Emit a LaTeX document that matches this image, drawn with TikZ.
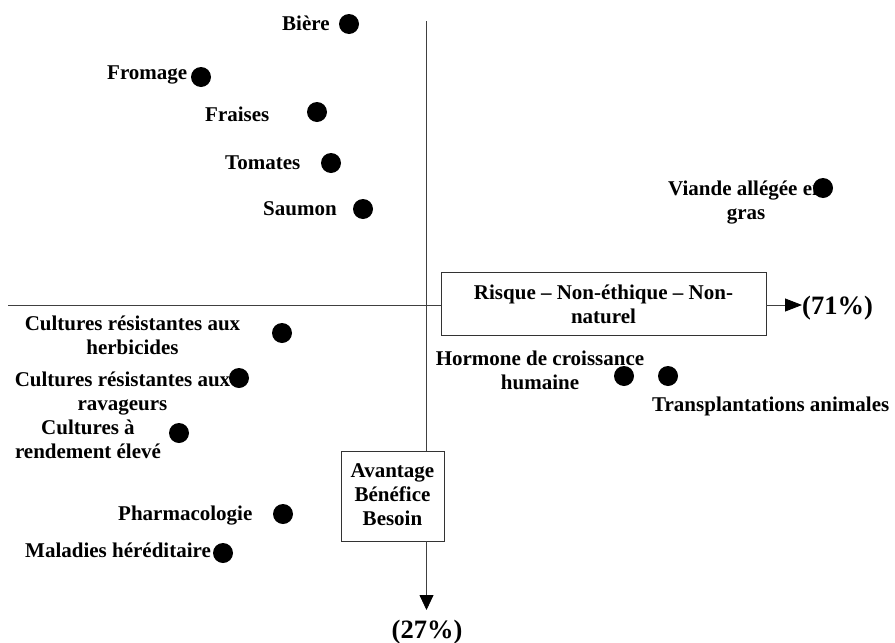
\documentclass[tikz,border=0pt]{standalone}
\usepackage{fontspec}
\setmainfont{Liberation Serif}
\usetikzlibrary{arrows.meta}
\begin{document}
\begin{tikzpicture}[x=1pt,y=-1pt,
  lbl/.style={font=\fontsize{21}{24}\selectfont\bfseries, inner sep=0pt, align=center, anchor=base},
  lblw/.style={font=\fontsize{21}{24}\selectfont\bfseries, inner sep=0pt, anchor=base west},
  pct/.style={font=\fontsize{26.5}{30}\selectfont\bfseries, inner sep=0pt},
  dot/.style={circle, fill=black, minimum size=20pt, inner sep=0pt},
  axis/.style={draw=black!75, line width=0.8pt},
  boxx/.style={draw=black!80, line width=0.9pt, inner sep=0pt}]
\useasboundingbox (0,0) rectangle (895,643);
% boxes
\node[boxx, minimum width=325pt, minimum height=63pt] (rb) at (603.5,303.5) {};
\node[lbl] (rbt) at (603.5,323) {Risque -- Non-éthique -- Non-\\naturel};
\node[boxx, minimum width=103pt, minimum height=90pt] (ab) at (392.5,496) {};
\node[lbl] (abt) at (392.5,525) {Avantage\\Bénéfice\\Besoin};
% axes
\coordinate (vtop) at (426.5,21);
\coordinate (htop) at (8,305);
\coordinate (vb1) at (426.5,451);
\coordinate (vb2) at (426.5,541);
\coordinate (vtip) at (426.5,610);
\coordinate (htip) at (802,305);
\draw[axis] (vtop) -- (vb1);
\draw[axis] (htop) -- (rb.west |- htop);
\draw[axis, -{Triangle[length=15pt,width=14pt,color=black]}] (vb2) -- (vtip);
\draw[axis, -{Triangle[length=17pt,width=13pt,color=black]}] (rb.east |- htip) -- (htip);
\node[pct, anchor=base west] (p71) at (802,314) {(71\%)};
\node[pct, anchor=base] (p27) at (427,638) {(27\%)};
% labels
\node[lblw] (lbiere) at (282,30) {Bière};
\node[lblw] (lfrom) at (107,79) {Fromage};
\node[lblw] (lfrai) at (205,121) {Fraises};
\node[lblw] (ltom) at (225,169) {Tomates};
\node[lblw] (lsaum) at (263,215) {Saumon};
\node[lbl] (lvia) at (746,219) {Viande allégée en\\gras};
\node[lbl] (lhor) at (540,389) {Hormone de croissance\\humaine};
\node[lblw] (ltra) at (652,411) {Transplantations animales};
\node[lbl] (lc1) at (132.5,354) {Cultures résistantes aux\\herbicides};
\node[lbl] (lc2) at (122.5,410) {Cultures résistantes aux\\ravageurs};
\node[lbl] (lc3) at (88,458) {Cultures à\\rendement élevé};
\node[lblw] (lpha) at (118,520) {Pharmacologie};
\node[lblw] (lmal) at (25,557) {Maladies héréditaire};
% dots
\node[dot] (dbiere) at (349,24) {};
\node[dot] (dfrom) at (201,77) {};
\node[dot] (dfrai) at (317,112) {};
\node[dot] (dtom) at (331,163) {};
\node[dot] (dsaum) at (363,209) {};
\node[dot] (dvia) at (823,188) {};
\node[dot] (dhor) at (624,376) {};
\node[dot] (dtra) at (668,376) {};
\node[dot] (dc1) at (282,333) {};
\node[dot] (dc2) at (239,378) {};
\node[dot] (dc3) at (179,433) {};
\node[dot] (dpha) at (283,514) {};
\node[dot] (dmal) at (223,553) {};
\end{tikzpicture}
\end{document}
